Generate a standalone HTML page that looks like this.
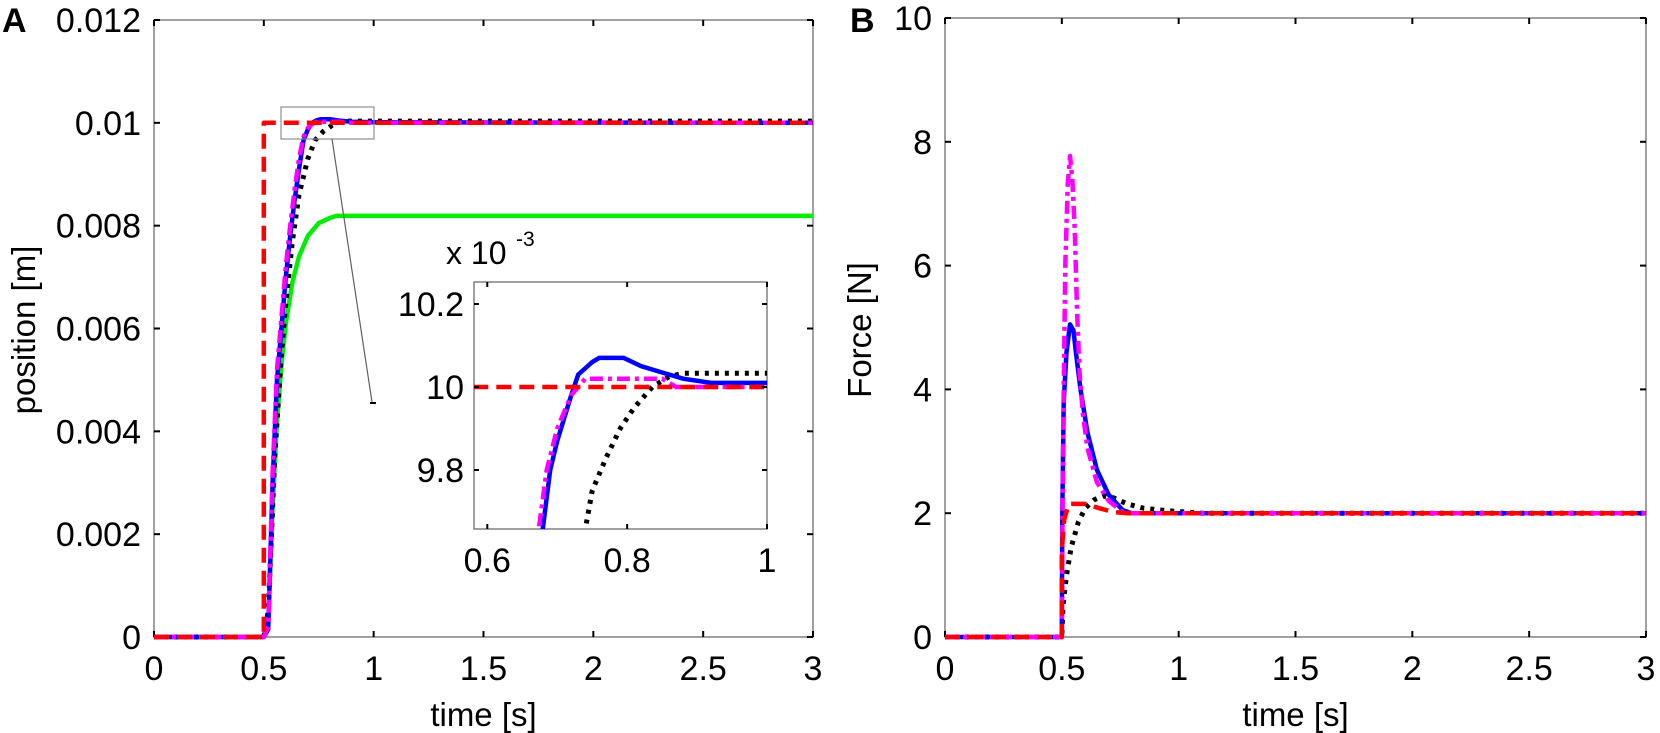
<!DOCTYPE html>
<html><head><meta charset="utf-8"><style>
html,body{margin:0;padding:0;background:#fff}
svg{display:block}
text{font-family:"Liberation Sans",Arial,sans-serif;fill:#000}
</style></head><body>
<svg id="s" width="1660" height="733" viewBox="0 0 1660 733" xmlns="http://www.w3.org/2000/svg"></svg>
<script>
const S=document.getElementById('s');const NS='http://www.w3.org/2000/svg';
function el(t,a,txt){const e=document.createElementNS(NS,t);for(const k in a)e.setAttribute(k,a[k]);if(txt!==undefined)e.textContent=txt;S.appendChild(e);return e;}
function axes(x0,x1,y0,y1){
 el('rect',{x:x0,y:y0,width:x1-x0,height:y1-y0,fill:'none',stroke:'#808080','stroke-width':1.5});
}
function line(pts,fx,fy,st){let d='';pts.forEach((p,i)=>{d+=(i?'L':'M')+fx(p[0]).toFixed(1)+' '+fy(p[1]).toFixed(1)});
 const a={d:d,fill:'none','stroke-linejoin':'round'};for(const k in st)a[k]=st[k];el('path',a);}
const RED={stroke:'#ff0000','stroke-width':4.5,'stroke-dasharray':'15,8'};
const BLK={stroke:'#000','stroke-width':5,'stroke-dasharray':'4,6'};
const MAG={stroke:'#ff00ff','stroke-width':4.5,'stroke-dasharray':'13,5,4,5'};
const BLU={stroke:'#0000ff','stroke-width':4.5};
const GRN={stroke:'#00ee00','stroke-width':4.5};
const TF=34, LF=33;

// ---------- Panel A ----------
const AL=154,AR=813,AT=20,AB=637;
const ax=t=>AL+(AR-AL)*t/3, ay=v=>AB-(AB-AT)*v/0.012;
axes(AL,AR,AT,AB);
for(let i=0;i<=6;i++){const v=i*0.002,y=ay(v);
 el('line',{x1:AL,y1:y,x2:AL+6,y2:y,stroke:'#000','stroke-width':2});
 el('line',{x1:AR,y1:y,x2:AR-6,y2:y,stroke:'#000','stroke-width':2});
 el('text',{x:AL-13,y:y+12,'font-size':TF,'text-anchor':'end'},i==0?'0':(i==5?'0.01':v.toFixed(3)));}
for(let i=0;i<=6;i++){const t=i*0.5,x=ax(t);
 el('line',{x1:x,y1:AB,x2:x,y2:AB-6,stroke:'#000','stroke-width':2});
 el('line',{x1:x,y1:AT,x2:x,y2:AT+6,stroke:'#000','stroke-width':2});
 el('text',{x:x,y:680,'font-size':TF,'text-anchor':'middle'},String(t));}
el('text',{x:AL+(AR-AL)/2,y:726,'font-size':LF,'text-anchor':'middle'},'time [s]');
el('text',{x:0,y:0,'font-size':LF,'text-anchor':'middle',transform:'translate(35,330) rotate(-90)'},'position [m]');
el('text',{x:2,y:32,'font-size':34,'font-weight':'bold'},'A');

const m=a=>a.map(p=>[p[0],p[1]/1000]);
const blue=m([[0,0],[0.5,0],[0.52,0.15],[0.54,3.0],[0.56,5.0],[0.58,6.0],[0.6,7.0],[0.62,7.8],[0.64,8.5],[0.66,9.1],[0.68,9.65],[0.7,9.87],[0.72,10.0],[0.74,10.05],[0.76,10.07],[0.8,10.07],[0.85,10.04],[0.9,10.02],[1,10.01],[3,10.0]]);
const mag=m([[0,0],[0.5,0],[0.52,0.2],[0.54,3.2],[0.56,5.2],[0.58,6.2],[0.6,7.2],[0.62,8.0],[0.64,8.7],[0.66,9.3],[0.68,9.72],[0.7,9.9],[0.72,9.98],[0.74,10.02],[0.85,10.02],[0.87,10.0],[3,10.0]]);
const blk=m([[0,0],[0.5,0],[0.52,0.5],[0.55,3.5],[0.58,5.5],[0.6,6.5],[0.63,7.7],[0.66,8.6],[0.7,9.3],[0.734,9.665],[0.77,9.83],[0.81,9.95],[0.836,10.0],[0.86,10.025],[0.88,10.033],[3,10.033]]);
const grn=m([[0,0],[0.5,0],[0.52,0.3],[0.54,2.5],[0.56,4.2],[0.58,5.3],[0.6,6.1],[0.63,6.9],[0.66,7.4],[0.7,7.8],[0.75,8.05],[0.8,8.15],[0.83,8.19],[3,8.19]]);
const red=m([[0,0],[0.5,0],[0.5,10],[3,10]]);
line(grn,ax,ay,GRN);line(blk,ax,ay,BLK);line(blue,ax,ay,BLU);line(mag,ax,ay,MAG);line(red,ax,ay,RED);
el('rect',{x:281,y:107,width:93,height:32,fill:'none',stroke:'#909090','stroke-width':1.2});
el('line',{x1:332,y1:139,x2:372,y2:402,stroke:'#606060','stroke-width':1.2});
el('line',{x1:370,y1:403,x2:376,y2:403,stroke:'#000','stroke-width':2});

// ---------- Inset ----------
const IL=474,IR=767,IT=282,IB=529;
const ix=t=>IL+(IR-IL)*(t-0.581)/(1-0.581), iy=v=>387-(v-10)*415;
el('rect',{x:IL,y:IT,width:IR-IL,height:IB-IT,fill:'#fff',stroke:'#808080','stroke-width':1.5});
el('clipPath',{id:'ic'});
const cp=S.lastChild;const r=document.createElementNS(NS,'rect');r.setAttribute('x',IL);r.setAttribute('y',IT);r.setAttribute('width',IR-IL);r.setAttribute('height',IB-IT);cp.appendChild(r);
const g=el('g',{'clip-path':'url(#ic)'});
function iline(pts,st){let d='';pts.forEach((p,i)=>{d+=(i?'L':'M')+ix(p[0]).toFixed(1)+' '+iy(p[1]).toFixed(1)});
 const p=document.createElementNS(NS,'path');p.setAttribute('d',d);p.setAttribute('fill','none');for(const k in st)p.setAttribute(k,st[k]);g.appendChild(p);}
iline([[0.734,9.6],[0.75,9.75],[0.77,9.83],[0.79,9.9],[0.81,9.95],[0.836,10.0],[0.86,10.025],[0.88,10.033],[1.0,10.033]],BLK);
iline([[0.675,9.6],[0.69,9.8],[0.7,9.87],[0.72,9.98],[0.73,10.03],[0.75,10.06],[0.76,10.07],[0.795,10.07],[0.82,10.05],[0.85,10.035],[0.88,10.02],[0.92,10.01],[1.0,10.01]],BLU);
iline([[0.669,9.6],[0.685,9.8],[0.7,9.9],[0.72,9.98],[0.74,10.02],[0.85,10.02],[0.87,10.0],[1.0,10.0]],MAG);
iline([[0.58,10],[1.0,10]],RED);
[[10.2,'10.2'],[10,'10'],[9.8,'9.8']].forEach(([v,l])=>{const y=iy(v);
 el('line',{x1:IL,y1:y,x2:IL+5,y2:y,stroke:'#000','stroke-width':2});
 el('line',{x1:IR,y1:y,x2:IR-5,y2:y,stroke:'#000','stroke-width':2});
 el('text',{x:IL-10,y:y+12,'font-size':TF,'text-anchor':'end'},l);});
[[0.6,'0.6'],[0.8,'0.8'],[1,'1']].forEach(([t,l])=>{const x=ix(t);
 el('line',{x1:x,y1:IB,x2:x,y2:IB-5,stroke:'#000','stroke-width':2});
 el('line',{x1:x,y1:IT,x2:x,y2:IT+5,stroke:'#000','stroke-width':2});
 el('text',{x:x,y:572,'font-size':TF,'text-anchor':'middle'},l);});
el('text',{x:446,y:264,'font-size':32},'x 10');
el('text',{x:516,y:246,'font-size':21},'-3');

// ---------- Panel B ----------
const BL=945,BR=1646,BT=18,BB=637;
const bx=t=>BL+(BR-BL)*t/3, by=v=>BB-(BB-BT)*v/10;
axes(BL,BR,BT,BB);
for(let i=0;i<=5;i++){const v=i*2,y=by(v);
 el('line',{x1:BL,y1:y,x2:BL+6,y2:y,stroke:'#000','stroke-width':2});
 el('line',{x1:BR,y1:y,x2:BR-6,y2:y,stroke:'#000','stroke-width':2});
 el('text',{x:BL-13,y:y+12,'font-size':TF,'text-anchor':'end'},String(v));}
for(let i=0;i<=6;i++){const t=i*0.5,x=bx(t);
 el('line',{x1:x,y1:BB,x2:x,y2:BB-6,stroke:'#000','stroke-width':2});
 el('line',{x1:x,y1:BT,x2:x,y2:BT+6,stroke:'#000','stroke-width':2});
 el('text',{x:x,y:680,'font-size':TF,'text-anchor':'middle'},String(t));}
el('text',{x:BL+(BR-BL)/2,y:726,'font-size':LF,'text-anchor':'middle'},'time [s]');
el('text',{x:0,y:0,'font-size':LF,'text-anchor':'middle',transform:'translate(871,330) rotate(-90)'},'Force [N]');
el('text',{x:850,y:32,'font-size':34,'font-weight':'bold'},'B');

line([[0,0],[0.5,0],[0.505,0.5],[0.52,1.0],[0.54,1.45],[0.57,1.85],[0.6,2.08],[0.64,2.22],[0.68,2.28],[0.72,2.25],[0.78,2.15],[0.85,2.08],[0.95,2.04],[1.1,2.0],[3,2.0]],bx,by,BLK);
line([[0,0],[0.5,0],[0.502,2.0],[0.508,3.8],[0.52,4.6],[0.535,5.05],[0.55,4.95],[0.56,4.6],[0.58,4.0],[0.61,3.3],[0.65,2.7],[0.7,2.3],[0.76,2.05],[0.8,2.0],[3,2.0]],bx,by,BLU);
line([[0,0],[0.5,0],[0.503,2.0],[0.508,4.0],[0.515,6.0],[0.525,7.3],[0.535,7.77],[0.545,7.4],[0.555,6.6],[0.565,5.3],[0.575,4.3],[0.59,3.6],[0.61,3.05],[0.65,2.5],[0.7,2.2],[0.76,2.02],[0.8,2.0],[3,2.0]],bx,by,MAG);
line([[0,0],[0.5,0],[0.5,1.4],[0.51,1.9],[0.53,2.15],[0.6,2.15],[0.66,2.08],[0.72,2.02],[0.78,2.0],[3,2.0]],bx,by,RED);
</script>
</body></html>
